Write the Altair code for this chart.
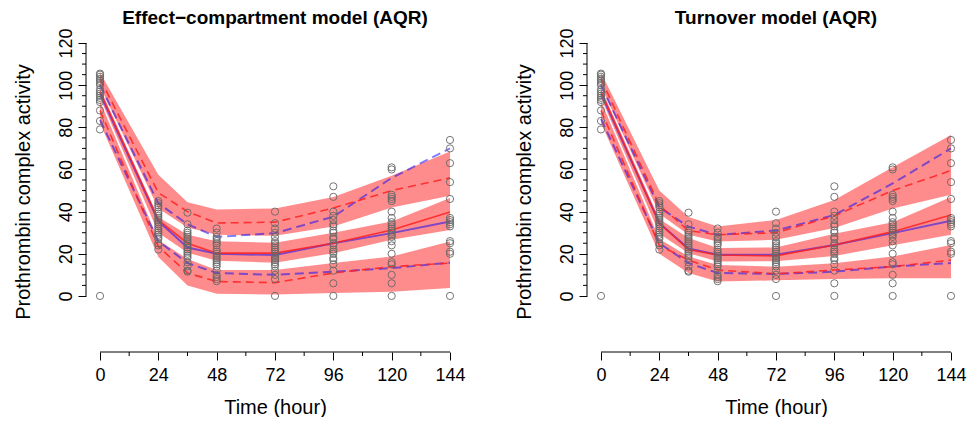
import altair as alt
import pandas as pd

# ---------------- data ----------------
times = [0, 24, 36, 48, 72, 96, 120, 144]

obs_t0 = [105.5, 105, 104, 103, 102, 101, 100, 98, 97, 96, 95, 94, 93, 92, 88, 83, 79, 0]
obs_t24 = [45, 44, 43, 42, 40, 39, 38, 37, 36, 35, 34, 33, 32, 31, 30, 29, 28, 27, 25, 24, 22]
obs_t36 = [39.5, 34, 31, 30, 29, 28, 27, 26, 25, 24, 23, 22, 21, 20, 19, 18, 16, 14, 12, 11.5]
obs_t48 = [32, 30, 28, 27, 26, 25, 24, 22, 21, 20, 19, 18, 17, 16, 15, 14, 12, 10, 9, 8, 7]
obs_t72 = [40, 34.5, 32, 30, 28, 26, 25, 24, 23, 22, 21, 20, 19, 18, 17, 16, 15, 14, 12, 10, 8, 0]
obs_t96 = [52, 47, 40, 38, 36, 34, 33, 31, 30, 28, 27, 25, 24, 22, 21, 20, 18, 17, 15, 12, 6, 0]
obs_t120 = [61, 60, 48, 47, 46, 45, 40, 37, 35, 34, 33, 32, 31, 30, 29, 28, 26, 24, 20, 16, 15, 10, 6, 0]
obs_t144 = [74, 70, 63, 54, 46, 37, 36, 35, 34, 33, 26, 25, 21, 20, 0]
obs_by_time = [obs_t0, obs_t24, obs_t36, obs_t48, obs_t72, obs_t96, obs_t120, obs_t144]

# Effect-compartment model: prediction-interval bands
ec_up_hi = [106, 57.5, 44.5, 41, 41.5, 47, 57, 68.5]
ec_up_lo = [99.5, 41.5, 32.5, 29, 28.5, 33, 42, 47.5]
ec_md_hi = [98.5, 37.5, 29, 26, 25.2, 30, 35.3, 46.5]
ec_md_lo = [94, 30, 20.5, 16.7, 15.8, 20.3, 26.6, 31.3]
ec_lo_hi = [92.5, 26.5, 17.5, 12.3, 12.3, 15.6, 18.7, 25.8]
ec_lo_lo = [82, 18.5, 5, 1, 0.7, 1.4, 2, 3.8]
# Effect-compartment model: percentile lines
ec_obs_p95 = [103, 49, 40, 34.6, 35, 41.7, 50, 56]
ec_obs_p50 = [97, 36, 25, 20.3, 20.3, 25, 31.3, 39.8]
ec_obs_p05 = [88, 23.4, 10.9, 6.8, 6.3, 10.9, 13.9, 15.6]
ec_sim_p95 = [100, 44, 34, 28, 29.8, 37.6, 56, 70]
ec_sim_p50 = [96, 35.5, 23, 20, 19.4, 25, 29.8, 35.3]
ec_sim_p05 = [83.5, 26, 15.6, 10.9, 10, 11.5, 13.2, 15.8]

# Turnover model: prediction-interval bands
to_up_hi = [106, 50, 37.5, 33, 36, 45.5, 61, 76.4]
to_up_lo = [99.5, 39, 29, 25.8, 26.6, 32.2, 41.5, 48]
to_md_hi = [98.5, 36.5, 27.5, 22.8, 23, 29.5, 35, 47]
to_md_lo = [94, 29.5, 20.3, 16.3, 16.5, 19, 24, 29]
to_lo_hi = [92.5, 27, 18.7, 14.7, 13.9, 15.5, 18.7, 24.2]
to_lo_lo = [82, 20, 10.9, 6.8, 7.4, 8, 8.4, 8.4]
# Turnover model: percentile lines
to_obs_p95 = [103, 43, 31, 29, 30, 38, 50, 59.5]
to_obs_p50 = [97, 34.5, 22, 19.4, 19, 24.2, 30.5, 38.4]
to_obs_p05 = [88, 24, 17, 12.3, 10.5, 12.3, 13.9, 17]
to_sim_p95 = [100, 42, 32.9, 29, 31, 38.4, 53.4, 70]
to_sim_p50 = [96, 34.5, 22.5, 19.5, 19.5, 24.2, 29.8, 35.7]
to_sim_p05 = [84, 25, 15.6, 10.9, 10.4, 11.5, 14, 15.6]

x_major = [0, 24, 48, 72, 96, 120, 144]
x_minor = [12, 36, 60, 84, 108, 132]
y_major = [0, 20, 40, 60, 80, 100, 120]
y_minor = [5, 10, 15, 25, 30, 35, 45, 50, 55, 65, 70, 75, 85, 90, 95, 105, 110, 115]

# ---------------- layout ----------------
W, H = 378, 321
XDOM = [-5.76, 149.76]
YDOM = [-26.6, 125.7]
FONT = "Liberation Sans"
BAND = "#ff8c8c"
RED = "#ff2020"
BLUE = "#0000ff"

obs_df = pd.DataFrame(
    [(t, v) for t, vals in zip(times, obs_by_time) for v in vals],
    columns=["time", "value"],
)


def panel(title, bands, lines_obs, lines_sim):
    band_rows = []
    for name, (hi, lo) in bands.items():
        for t, h, l in zip(times, hi, lo):
            band_rows.append((name, t, l, h))
    band_df = pd.DataFrame(band_rows, columns=["band", "time", "lo", "hi"])

    def long(d):
        rows = []
        for name, vals in d.items():
            for t, v in zip(times, vals):
                rows.append((name, t, v))
        return pd.DataFrame(rows, columns=["series", "time", "value"])

    obs_lines = long(lines_obs)
    sim_lines = long(lines_sim)

    xs = alt.Scale(domain=XDOM, nice=False, zero=False)
    ys = alt.Scale(domain=YDOM, nice=False, zero=False)
    x_axis = alt.Axis(
        values=x_major, title="Time (hour)", domain=False, grid=False,
        tickSize=8, tickColor="black", tickWidth=1,
        labelFontSize=18, labelFont=FONT, labelColor="black", labelPadding=6,
        labelFlush=False, labelOverlap=False,
        titleFontSize=20, titleFont=FONT, titleFontWeight="normal",
        titleColor="black", titlePadding=13,
    )
    y_axis = alt.Axis(
        values=y_major, title="Prothrombin complex activity", domain=False,
        grid=False, tickSize=8, tickColor="black", tickWidth=1,
        labelAngle=-90, labelAlign="center", labelBaseline="bottom",
        labelFlush=False, labelOverlap=False,
        labelFontSize=18, labelFont=FONT, labelColor="black", labelPadding=3,
        titleFontSize=20, titleFont=FONT, titleFontWeight="normal",
        titleColor="black", titlePadding=24,
    )

    def X(f):
        return alt.X(f, scale=xs, axis=x_axis)

    def Y(f):
        return alt.Y(f, scale=ys, axis=y_axis)

    bands_l = alt.Chart(band_df).mark_area(color=BAND, opacity=1).encode(
        x=X("time:Q"), y=Y("lo:Q"), y2="hi:Q", detail="band:N"
    )
    sim_dash = alt.Chart(sim_lines).transform_filter(
        alt.datum.series != "p50").mark_line(
        color=BLUE, opacity=0.5, strokeWidth=2, strokeDash=[9, 5]
    ).encode(x=X("time:Q"), y=Y("value:Q"), detail="series:N")
    sim_med = alt.Chart(sim_lines).transform_filter(
        alt.datum.series == "p50").mark_line(
        color=BLUE, opacity=0.5, strokeWidth=2
    ).encode(x=X("time:Q"), y=Y("value:Q"))
    obs_dash = alt.Chart(obs_lines).transform_filter(
        alt.datum.series != "p50").mark_line(
        color=RED, opacity=0.85, strokeWidth=1.6, strokeDash=[8, 5]
    ).encode(x=X("time:Q"), y=Y("value:Q"), detail="series:N")
    obs_med = alt.Chart(obs_lines).transform_filter(
        alt.datum.series == "p50").mark_line(
        color=RED, opacity=0.85, strokeWidth=1.6
    ).encode(x=X("time:Q"), y=Y("value:Q"))
    pts = alt.Chart(obs_df).mark_point(
        shape="circle", filled=False, size=52, color="#666666", strokeWidth=0.9,
        opacity=1
    ).encode(x=X("time:Q"), y=Y("value:Q"))

    xline = alt.Chart(pd.DataFrame({"time": [x_major[0]], "t2": [x_major[-1]]})).mark_rule(
        color="black", strokeWidth=1).encode(
        x=X("time:Q"), x2="t2:Q", y=alt.value(H))
    yline = alt.Chart(pd.DataFrame({"value": [y_major[0]], "v2": [y_major[-1]]})).mark_rule(
        color="black", strokeWidth=1).encode(
        y=Y("value:Q"), y2="v2:Q", x=alt.value(0))
    xminor = alt.Chart(pd.DataFrame({"time": x_minor})).mark_rule(
        color="black", strokeWidth=1).encode(
        x=X("time:Q"), y=alt.value(H), y2=alt.value(H + 4))
    yminor = alt.Chart(pd.DataFrame({"value": y_minor})).mark_rule(
        color="black", strokeWidth=1).encode(
        y=Y("value:Q"), x=alt.value(0), x2=alt.value(-4))

    return alt.layer(
        bands_l, sim_dash, sim_med, obs_dash, obs_med, pts,
        xline, yline, xminor, yminor,
    ).properties(
        width=W, height=H,
        title=alt.TitleParams(title, fontSize=19, fontWeight="bold", font=FONT,
                              anchor="middle", color="black", offset=0),
    )


left = panel(
    "Effect\u2212compartment model (AQR)",
    {"upper": (ec_up_hi, ec_up_lo), "middle": (ec_md_hi, ec_md_lo),
     "lower": (ec_lo_hi, ec_lo_lo)},
    {"p95": ec_obs_p95, "p50": ec_obs_p50, "p05": ec_obs_p05},
    {"p95": ec_sim_p95, "p50": ec_sim_p50, "p05": ec_sim_p05},
)
right = panel(
    "Turnover model (AQR)",
    {"upper": (to_up_hi, to_up_lo), "middle": (to_md_hi, to_md_lo),
     "lower": (to_lo_hi, to_lo_lo)},
    {"p95": to_obs_p95, "p50": to_obs_p50, "p05": to_obs_p05},
    {"p95": to_sim_p95, "p50": to_sim_p50, "p05": to_sim_p05},
)

chart = alt.hconcat(left, right, spacing=48).properties(
    padding={"left": 5, "top": 0, "right": 0, "bottom": 0}
).configure_view(stroke=None)

chart.save("out.html", embed_options={"renderer": "svg", "actions": False})
